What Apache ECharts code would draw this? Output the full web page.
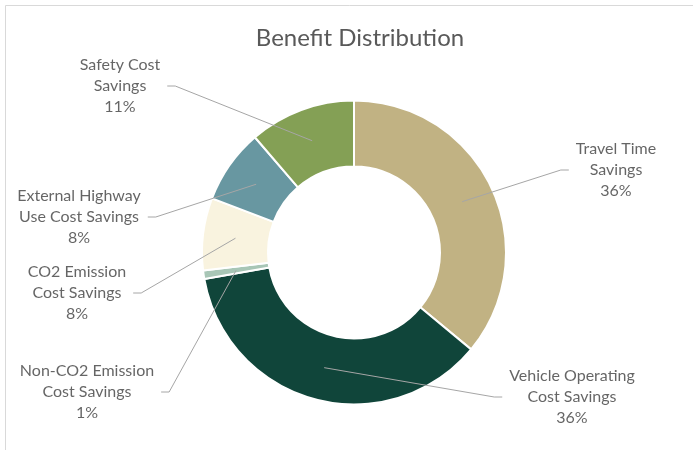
<!DOCTYPE html>
<html>
<head>
<meta charset="utf-8">
<script src="https://cdn.jsdelivr.net/npm/echarts@6/dist/echarts.min.js"></script>
<style>
  html, body { margin: 0; padding: 0; background: #ffffff; }
  #chart { width: 693px; height: 450px; }
</style>
</head>
<body>
<div id="chart"></div>
<script>
// Benefit categories, in drawing order (clockwise from 12 o'clock)
const categories = [
  'Travel Time Savings',
  'Vehicle Operating Cost Savings',
  'Non-CO2 Emission Cost Savings',
  'CO2 Emission Cost Savings',
  'External Highway Use Cost Savings',
  'Safety Cost Savings'
];
// Wrapped label text for each category
const labelText = [
  ['Travel Time', 'Savings'],
  ['Vehicle Operating', 'Cost Savings'],
  ['Non-CO2 Emission', 'Cost Savings'],
  ['CO2 Emission', 'Cost Savings'],
  ['External Highway', 'Use Cost Savings'],
  ['Safety Cost', 'Savings']
];
// Share of total benefits (%)
const shares = [36.0, 36.2, 0.9, 7.7, 7.9, 11.3];

// Slice colours
const colors = ['#C1B283', '#10453A', '#A8C6B6', '#F9F3DF', '#6897A1', '#84A055'];

// Layout: ring geometry and label anchor points (center x, middle-line y)
const CENTER = [354, 252.5];
const R_IN = 86, R_OUT = 152;
const R_MID = (R_IN + R_OUT) / 2;
const labelAnchor = [[616, 170], [572, 397], [87, 392], [77, 293], [79, 217], [120, 86]];

const FONT = 'Lato, "Open Sans", sans-serif';
const total = shares.reduce((a, b) => a + b, 0);

// Invisible anchor points at the middle of each slice, used to hang the leader lines
let running = 0;
const anchorData = shares.map((v, i) => {
  const mid = running + v / 2;
  running += v;
  const pct = Math.round(v / total * 100);
  return {
    name: categories[i],
    value: [R_MID, mid],
    label: { formatter: labelText[i].join('\n') + '\n' + pct + '%' }
  };
});

const chart = echarts.init(document.getElementById('chart'), null, { renderer: 'canvas' });
chart.setOption({
  animation: false,
  backgroundColor: '#ffffff',
  title: {
    text: 'Benefit Distribution',
    left: 355,
    top: 21,
    textAlign: 'center',
    textStyle: { fontFamily: FONT, fontSize: 24, fontWeight: 'normal', color: '#595959' }
  },
  graphic: [{
    type: 'rect',
    shape: { x: 5.5, y: 5.5, width: 720, height: 480 },
    style: { fill: 'none', stroke: '#D9D9D9', lineWidth: 1 },
    silent: true
  }],
  polar: { center: CENTER, radius: R_OUT },
  angleAxis: { type: 'value', min: 0, max: total, startAngle: 90, clockwise: true, show: false },
  radiusAxis: { type: 'value', min: 0, max: R_OUT, show: false },
  series: [
    {
      type: 'pie',
      center: CENTER,
      radius: [R_IN, R_OUT],
      startAngle: 90,
      clockwise: true,
      silent: true,
      label: { show: false },
      labelLine: { show: false },
      itemStyle: { borderColor: '#ffffff', borderWidth: 2 },
      data: categories.map((name, i) => ({
        name: name,
        value: shares[i],
        itemStyle: { color: colors[i] }
      }))
    },
    {
      type: 'scatter',
      coordinateSystem: 'polar',
      silent: true,
      symbol: 'circle',
      symbolSize: 1,
      itemStyle: { color: 'rgba(0,0,0,0)' },
      z: 5,
      label: {
        show: true,
        position: 'inside',
        color: '#3F3F3F',
        fontFamily: FONT,
        fontSize: 16,
        lineHeight: 21,
        align: 'center',
        padding: [0, 7],
        backgroundColor: 'rgba(255,255,255,0)'
      },
      labelLine: {
        show: true,
        length2: 8,
        lineStyle: { color: '#A6A6A6', width: 1 }
      },
      labelLayout: function (p) {
        const a = labelAnchor[p.dataIndex];
        return { x: a[0], y: a[1], align: 'center', verticalAlign: 'middle' };
      },
      data: anchorData
    }
  ]
});
</script>
</body>
</html>
